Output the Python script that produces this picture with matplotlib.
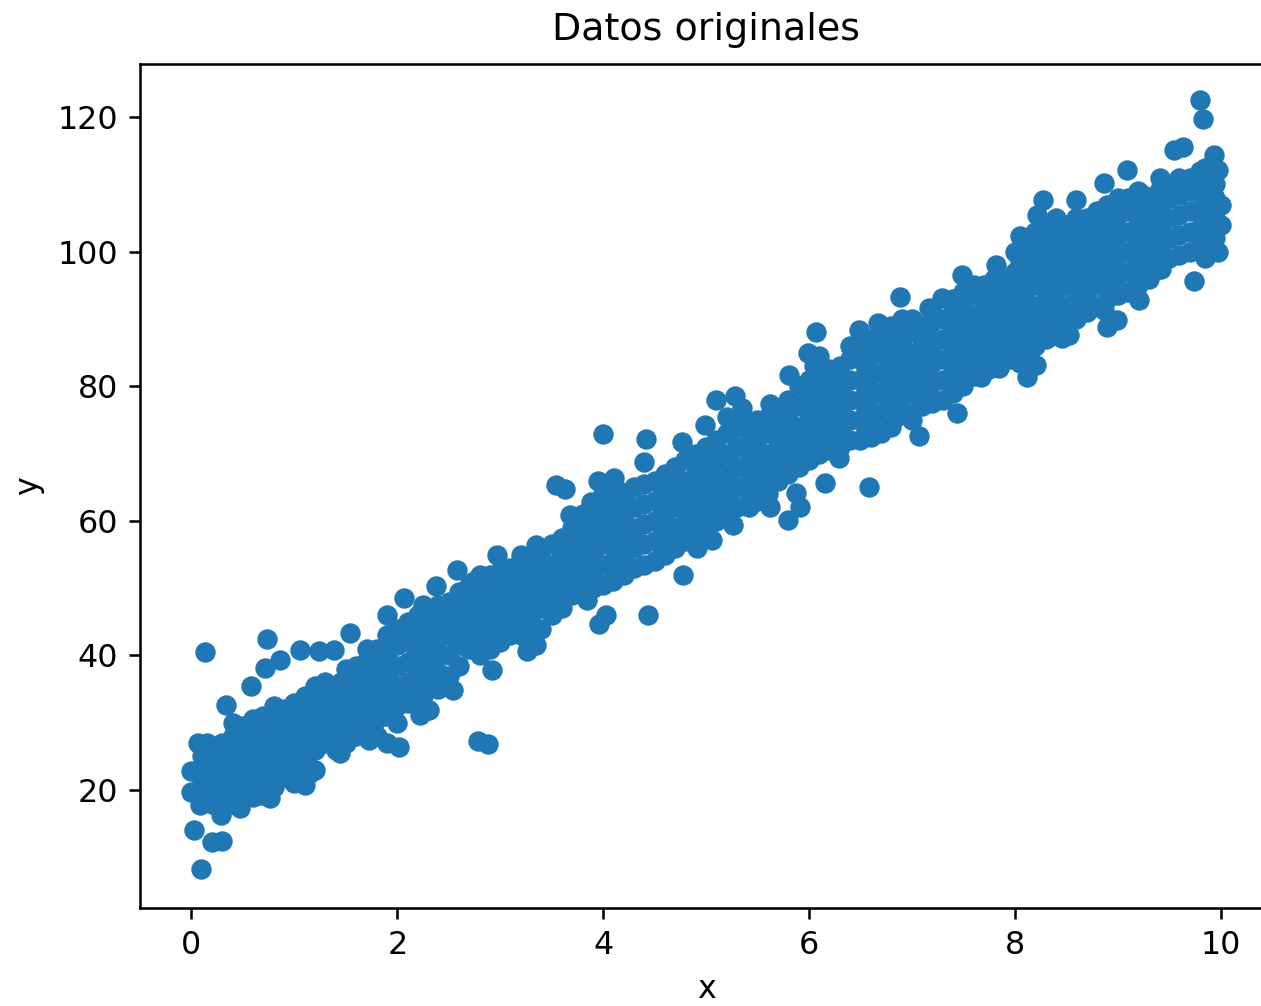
#!/usr/bin/env python

from matplotlib import pyplot as plt

# points on the edge of the cloud, read one by one
edge_x = [0.13, 0.09, 0.02, 0.2, 0.3, 0.0, 0.0, 0.06, 0.15, 0.34, 0.58, 0.71, 0.73, 0.86, 1.05,
          1.24, 1.39, 1.54, 1.71, 1.9, 2.07, 2.38, 2.58, 2.97, 3.35, 3.54, 3.63, 3.68, 3.95, 3.88,
          4.0, 4.42, 4.4, 4.11, 4.77, 4.99, 5.1, 5.28, 5.35, 5.62, 5.81, 5.99, 6.07, 6.49, 6.67,
          6.89, 7.29, 7.17, 7.49, 7.82, 8.05, 8.27, 8.22, 8.6, 8.87, 9.09, 9.41, 9.55, 9.64, 9.8,
          9.83, 9.94, 9.98, 10.0, 10.0, 9.98, 9.85, 9.74, 9.21, 9.42, 8.99, 8.9, 8.87, 8.53, 8.46,
          8.21, 8.12, 8.1, 7.85, 7.67, 7.44, 7.07, 7.0, 6.58, 6.16, 6.29, 5.91, 5.87, 5.8, 5.62,
          5.42, 5.26, 5.06, 4.91, 4.78, 4.44, 4.03, 3.96, 3.84, 3.26, 3.35, 2.92, 2.54, 2.31, 2.22,
          2.08, 1.9, 2.02, 2.78, 2.88, 1.73, 1.44, 1.1, 1.1, 1.15, 0.76, 0.69, 0.47, 0.29, 0.08]
edge_y = [40.5, 8.2, 14, 12.3, 12.5, 22.8, 19.7, 27, 27, 32.6, 35.4, 38.1, 42.5, 39.4, 40.8,
          40.6, 40.8, 43.3, 41, 46, 48.5, 50.3, 52.7, 54.9, 56.4, 65.3, 64.7, 60.9, 66, 62.8,
          72.9, 72.2, 68.7, 66.4, 71.7, 74.2, 78, 78.5, 76.8, 77.4, 81.7, 85, 88, 88.3, 89.4,
          93.3, 93.1, 91.6, 96.5, 98, 102.3, 107.7, 105.4, 107.7, 110.2, 112.1, 110.9, 115.1, 115.5, 122.5,
          119.7, 114.4, 112.1, 107, 104, 100, 99, 95.6, 92.8, 97.4, 89.8, 88.8, 91.3, 87.6, 87.2,
          83.2, 81.4, 83.2, 82.7, 81.4, 76, 72.6, 75, 65, 65.7, 69.3, 62, 64.1, 60.1, 62,
          62, 59.4, 57.1, 56, 52, 46, 46, 44.7, 48.2, 40.7, 41.5, 37.8, 34.9, 31.9, 31.1,
          35, 27, 26.4, 27.3, 26.8, 27.4, 25.5, 24.5, 20.7, 22.5, 18.8, 19.3, 17.3, 16.3, 17.8]

# inner part of the cloud, column by column
column_x = [0.1, 0.3, 0.5, 0.7, 0.9, 1.1, 1.3, 1.5, 1.7, 1.9, 2.1, 2.3, 2.5, 2.7, 2.9, 3.1, 3.3,
            3.5, 3.7, 3.9, 4.1, 4.3, 4.5, 4.7, 4.9, 5.1, 5.3, 5.5, 5.7, 5.9, 6.1, 6.3, 6.5, 6.7,
            6.9, 7.1, 7.3, 7.5, 7.7, 7.9, 8.1, 8.3, 8.5, 8.7, 8.9, 9.1, 9.3, 9.5, 9.7, 9.85, 9.95]
column_y = [[19, 21, 23, 25], [19, 21, 23, 25, 27], [20, 22.5, 25, 27, 29.5], [22, 24, 26.5, 29, 31],
            [22, 24.5, 27, 29.5, 32], [25, 27, 29, 31.5, 34], [27, 29.5, 32, 34.5, 36],
            [27, 30, 32.5, 35, 38], [29, 32, 34.5, 37, 39], [31, 34, 37, 40, 43], [33, 36, 39, 42, 45],
            [36, 38.5, 41, 44, 46.5], [37, 40, 43, 45.5, 48], [41, 43.5, 46, 48.5, 50.5],
            [41, 44, 46.5, 49, 52], [43, 45.5, 48, 50.5, 53], [43, 46, 49, 52, 54],
            [46, 48.5, 51, 53.5, 56.5], [49, 51.5, 54, 56.5, 59], [50, 52.5, 55, 57.5, 60],
            [51, 54, 57, 60, 63], [53, 56, 59, 62, 65], [54, 57, 60, 63, 66], [56, 59, 62, 65, 68],
            [58, 61, 64, 67, 70], [60, 63, 66, 69, 72], [62, 65, 68, 71, 74], [63, 66, 69, 72, 75],
            [66, 68.5, 71, 73.5, 76], [68, 71, 74, 77, 80], [70, 73, 76, 79, 82, 84.5],
            [71, 74, 77, 80, 83], [72, 75, 78, 81, 84, 86], [73, 76, 79, 82, 85, 87],
            [76, 78.5, 81, 84, 87, 90], [77, 80, 83, 86, 89], [78, 81, 84, 87, 90],
            [80, 83, 86, 89, 92, 94], [83, 86, 89, 92, 95], [85, 88, 91, 94, 96],
            [85, 88, 91, 94, 97, 99.5], [87, 90, 93, 96, 99, 102, 104], [89, 92, 95, 98, 101, 104],
            [91, 94, 97, 100, 103, 105], [93, 96, 99, 102, 105, 107], [94, 97, 100, 103, 106, 108],
            [96, 99, 102, 105, 108], [99, 102, 105, 108, 110], [100, 103, 106, 109, 111],
            [101, 104, 107, 110, 112.5], [102, 105, 108, 110, 112]]

# second set of columns, between the first ones
between_x = [0.2, 0.4, 0.6, 0.8, 1.0, 1.2, 1.4, 1.6, 1.8, 2.0, 2.2, 2.4, 2.6, 2.8, 3.0, 3.2, 3.4,
             3.6, 3.8, 4.0, 4.2, 4.4, 4.6, 4.8, 5.0, 5.2, 5.4, 5.6, 5.8, 6.0, 6.2, 6.4, 6.6, 6.8,
             7.0, 7.2, 7.4, 7.6, 7.8, 8.0, 8.2, 8.4, 8.6, 8.8, 9.0, 9.2, 9.4, 9.6, 9.8]
between_y = [[18, 20, 22, 24, 26], [18, 20, 22, 24, 26, 28, 30], [19, 21, 23.5, 26, 28, 30.5],
             [20.5, 23, 25.5, 28, 30.5, 32.5], [21, 23.5, 26, 28.5, 31, 33], [23, 26, 28, 30.5, 33, 35.5],
             [26, 28.5, 31, 33, 35.5], [28, 31, 33.5, 36, 38.5], [28, 30.5, 33, 35.5, 38, 41],
             [30, 32.5, 35.5, 38.5, 41.5, 44], [33, 35, 37.5, 40.5, 43.5, 46], [35, 37.5, 40, 42.5, 45, 47.5],
             [38.5, 41.5, 44.5, 47, 49.5], [40, 42.5, 45, 47.5, 50, 52], [42, 44.5, 47.5, 50, 52.5],
             [43, 45, 47.5, 50, 52.5, 55], [44, 47, 50, 53, 55.5], [47, 50, 52.5, 55, 57.5],
             [49, 51, 53.5, 56, 58.5, 61], [50.5, 53.5, 56.5, 59, 61.5, 64], [52, 55, 58, 61, 64],
             [53.5, 56.5, 59.5, 62.5, 65.5], [55, 58, 61, 64, 67], [57, 60, 63, 66, 69],
             [59, 62, 65, 68, 71], [61, 64, 67, 70, 73, 75.5], [62.5, 65.5, 68.5, 71.5, 74.5],
             [64, 67, 70, 73, 75.5], [67, 70, 72.5, 75, 78], [69, 72, 75, 78, 81],
             [70.5, 73.5, 76.5, 79.5, 82.5], [72, 75, 78, 81, 84, 86], [72.5, 75.5, 78.5, 81.5, 84.5, 87],
             [74, 77.5, 80.5, 83.5, 86.5, 89], [76, 79, 82, 85, 88, 90], [77.5, 80.5, 83.5, 86.5, 89.5, 91],
             [79, 82, 85, 88, 91, 93], [81.5, 84.5, 87.5, 90.5, 93.5, 95], [84, 87, 90, 93, 96],
             [85, 88, 91, 94, 97, 100], [86, 89, 92, 95, 98, 101, 103], [88, 91, 94, 97, 100, 103, 105],
             [90, 93, 96, 99, 102, 105], [92, 95, 98, 101, 104, 106], [93.5, 96.5, 99.5, 102.5, 105.5, 108],
             [95, 98, 101, 104, 107, 109], [97.5, 100.5, 103.5, 106.5, 109], [99.5, 102.5, 105.5, 108.5, 111],
             [100.5, 103.5, 106.5, 109.5, 112]]

# a few more, where the cloud was still too thin
extra_x = [0.95, 1.45, 2.25, 2.75, 3.25, 3.75, 4.15, 4.55, 5.05, 5.45, 6.05, 6.25, 6.55, 6.85,
           7.15, 7.45, 7.75, 7.95, 8.05, 8.35, 8.65, 8.95, 9.25]
extra_y = [[24, 27, 30], [28, 30, 33, 36], [34, 37, 40, 43, 47.5], [41, 44, 47, 51], [45, 48, 51, 54],
           [50, 53, 56, 59], [52.5, 55.5, 58.5, 61.5, 64.5], [56.5, 59.5, 62.5, 65.5],
           [61.5, 64.5, 67.5, 70.5], [64.5, 67.5, 70.5, 73.5], [71.5, 74.5, 77.5, 80.5, 83],
           [72.5, 75.5, 78.5, 81.5], [73.5, 76.5, 79.5, 82.5, 85.5], [75.5, 79, 82, 85, 88],
           [78.5, 81.5, 84.5, 87.5], [80.5, 83.5, 86.5, 89.5, 92.5], [82.5, 85.5, 88.5, 91.5, 94.5],
           [84, 87, 89.5, 92.5, 95.5], [83.5, 86.5, 89.5, 92.5, 95.5, 98.5],
           [87.5, 90.5, 93.5, 96.5, 99.5, 102.5], [91.5, 94.5, 97.5, 100.5, 103.5],
           [94.5, 97.5, 100.5, 103.5, 106.5], [96.5, 99.5, 102.5, 105.5, 108.5]]

x = list(edge_x)
y = list(edge_y)
for cx, ys in zip(column_x + between_x + extra_x, column_y + between_y + extra_y):
    for cy in ys:
        x.append(cx)
        y.append(cy)

scale = 2.283
plt.rcParams['font.size'] = 10 * scale
plt.rcParams['axes.linewidth'] = 0.8 * scale
plt.rcParams['xtick.major.size'] = 3.5 * scale
plt.rcParams['ytick.major.size'] = 3.5 * scale
plt.rcParams['xtick.major.width'] = 0.8 * scale
plt.rcParams['ytick.major.width'] = 0.8 * scale
plt.rcParams['xtick.major.pad'] = 3.5 * scale
plt.rcParams['ytick.major.pad'] = 3.5 * scale
plt.rcParams['axes.labelpad'] = 4 * scale
plt.rcParams['axes.titlepad'] = 7.6 * scale

fig = plt.figure(figsize=(12.61, 10.06), dpi=100)
ax = fig.add_axes([140 / 1261, 98 / 1006, 1132 / 1261, 844 / 1006])
ax.scatter(x, y, s=(6 * scale) ** 2, color='#1f77b4')
ax.set_xlim(-0.5, 10.5)
ax.set_ylim(2.47, 127.9)
ax.set_xticks([0, 2, 4, 6, 8, 10])
ax.set_yticks([20, 40, 60, 80, 100, 120])
ax.set_title('Datos originales')
ax.set_xlabel('x')
ax.set_ylabel('y')
plt.savefig('out.png')
